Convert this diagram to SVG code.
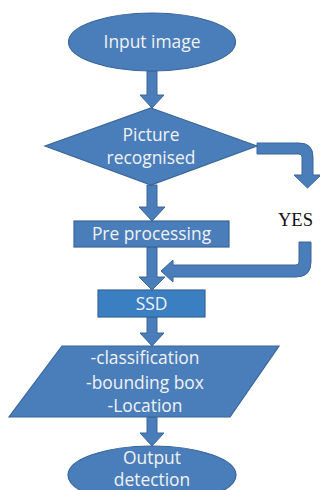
<svg xmlns="http://www.w3.org/2000/svg" width="320" height="490" viewBox="0 0 320 490">
<style>
.shape{fill:#4a7ebb;stroke:#3a6598;stroke-width:1.2}
.ssd{fill:#3a7fc2;stroke:#3a6598;stroke-width:1.2}
.arrow{fill:#4a7ebb;stroke:#3a6598;stroke-width:1}
.lbl{font-family:"Open Sans","Noto Sans",sans-serif;font-size:17.4px;fill:#f2f2f2;text-anchor:middle}
.yes{font-family:"Liberation Serif","Times New Roman",serif;font-size:18.5px;fill:#111}
</style>
<rect width="320" height="490" fill="#fff"/>
<g id="connectors">
<polygon class="arrow" points="147,71 157,71 157,95 164,95 152,108 140,95 147,95"/>
<polygon class="arrow" points="147,185 157,185 157,207 165,207 152,221 139,207 147,207"/>
<polygon class="arrow" points="147,247 157,247 157,277 165,277 152,290 139,277 147,277"/>
<polygon class="arrow" points="147,317 157,317 157,333 164,333 152,346 140,333 147,333"/>
<polygon class="arrow" points="147,417 157,417 157,433 164,433 152,446 140,433 147,433"/>
<path class="arrow" d="M257,143 H299 Q313,143 313,157 V175 H321 L307.5,188 L294,175 H302 V157 Q302,154 299,154 H257 Z"/>
<path class="arrow" d="M299,242 H311 V262 Q311,277 296,277 H173 V282 L161,271 L173,260 V265 H296 Q299,265 299,262 Z"/>
</g>
<g id="input">
<ellipse class="shape" cx="152" cy="42" rx="83.5" ry="29"/>
<text class="lbl" x="152" y="48">Input image</text>
</g>
<g id="decision">
<polygon class="shape" points="151,108 257,146 151,185 45,146"/>
<text class="lbl" x="151" y="141">Picture</text>
<text class="lbl" x="151" y="164">recognised</text>
</g>
<g id="yes-label">
<text class="yes" x="278" y="226">YES</text>
</g>
<g id="preprocessing">
<rect class="shape" x="74" y="221" width="155" height="26"/>
<text class="lbl" x="151.5" y="240">Pre processing</text>
</g>
<g id="ssd">
<rect class="ssd" x="98" y="290" width="107" height="27"/>
<text class="lbl" x="151.5" y="309.5">SSD</text>
</g>
<g id="outputs">
<polygon class="shape" points="62,346 279,346 230,417 9,417"/>
<text class="lbl" x="145" y="364">-classification</text>
<text class="lbl" x="145" y="389">-bounding box</text>
<text class="lbl" x="145" y="412">-Location</text>
</g>
<g id="output-detection">
<ellipse class="shape" cx="152" cy="475" rx="84" ry="29"/>
<text class="lbl" x="152" y="464">Output</text>
<text class="lbl" x="152" y="486">detection</text>
</g>
</svg>
